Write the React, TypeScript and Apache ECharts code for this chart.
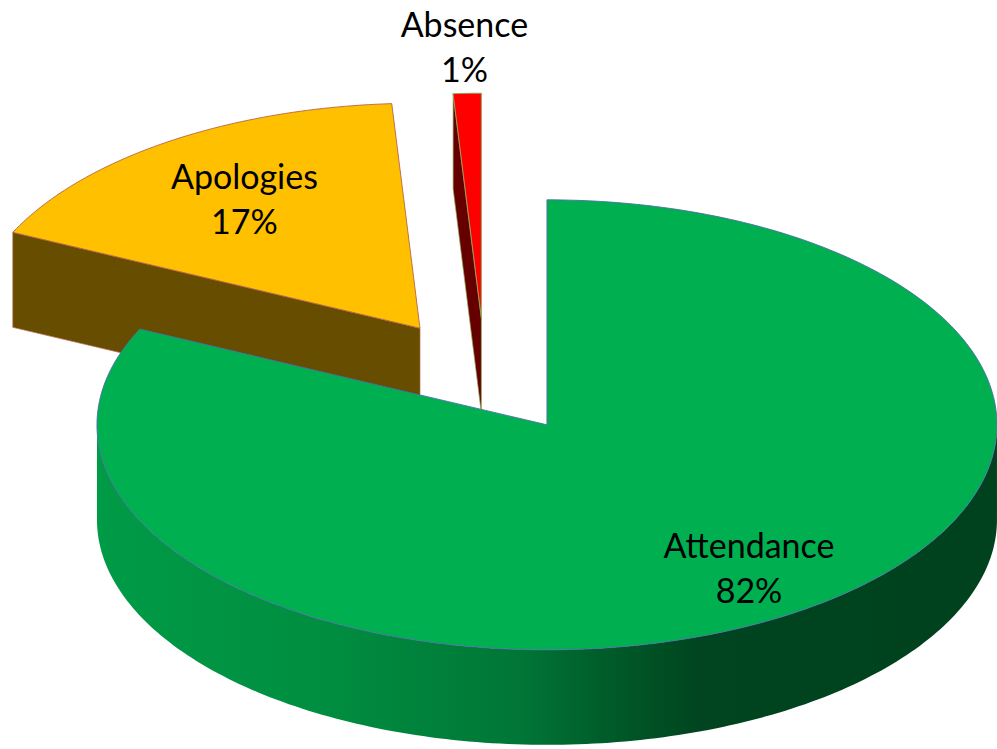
import React, { useEffect, useRef } from "react";
import * as echarts from "echarts";

// ---- data ----
const categories: string[] = ["Attendance", "Apologies", "Absence"];
const values: number[] = [82, 17, 1];

// ---- styles / layout (not data) ----
const topColors: string[] = ["#00B050", "#FFC000", "#FF0000"];
const edgeColors: string[] = ["#4C6EA6", "#B8644A", "#8FA85A"];
const labelFactors: number[][] = [
  [0.838, 0.747],
  [0.694, 0.7],
  [1.2, 1.21],
];
const REF_W = 997;
const REF_H = 749;
const CX = 485;
const CY = 376;
const RX = 450;
const RY = 225;
const DEPTH = 95;
const EXPLODE = 0.257;
const SIDE_STOPS: number[][] = [
  [0, 0.88],
  [0.26, 0.8],
  [0.47, 0.67],
  [0.58, 0.5],
  [0.67, 0.39],
  [1, 0.37],
];
const CUT_SHADE = 0.4;

function shade(hex: string, f: number): string {
  const n = parseInt(hex.slice(1), 16);
  const r = Math.round(((n >> 16) & 255) * f);
  const g = Math.round(((n >> 8) & 255) * f);
  const b = Math.round((n & 255) * f);
  return `rgb(${r},${g},${b})`;
}

const rad = (d: number) => (d * Math.PI) / 180;

function renderItem(params: any, api: any) {
  const i = params.dataIndex;
  const sx = api.getWidth() / REF_W;
  const sy = api.getHeight() / REF_H;
  const total = values.reduce((a, b) => a + b, 0);
  let before = 0;
  for (let k = 0; k < i; k++) before += values[k];
  const v = api.value(0) as number;
  const a0 = (before / total) * 360;
  const a1 = ((before + v) / total) * 360;
  const m = (a0 + a1) / 2;
  const tx = CX + EXPLODE * RX * Math.sin(rad(m));
  const ty = CY - EXPLODE * RY * Math.cos(rad(m));
  const pt = (deg: number, dz = 0): number[] => [
    (tx + RX * Math.sin(rad(deg))) * sx,
    (ty - RY * Math.cos(rad(deg)) + dz) * sy,
  ];
  const arc = (from: number, to: number, dz: number): number[][] => {
    const pts: number[][] = [];
    const n = Math.max(2, Math.ceil(Math.abs(to - from)));
    for (let j = 0; j <= n; j++) pts.push(pt(from + ((to - from) * j) / n, dz));
    return pts;
  };
  const T = [tx * sx, ty * sy];
  const TD = [tx * sx, (ty + DEPTH) * sy];
  const base = topColors[i];
  const zb = Math.round(ty) * 4;
  const children: any[] = [];

  // outer side wall (front half only)
  const lo = Math.max(a0, 90);
  const hi = Math.min(a1, 270);
  if (hi > lo) {
    children.push({
      type: "polygon",
      z2: zb,
      shape: { points: arc(lo, hi, 0).concat(arc(hi, lo, DEPTH)) },
      style: {
        fill: {
          type: "linear",
          x: (tx - RX) * sx,
          y: 0,
          x2: (tx + RX) * sx,
          y2: 0,
          global: true,
          colorStops: SIDE_STOPS.map(([o, f]) => ({ offset: o, color: shade(base, f) })),
        },
        stroke: null,
      },
    });
  }
  // cut faces
  if (Math.sin(rad(a0)) < -1e-6) {
    children.push({
      type: "polygon",
      z2: zb + 1,
      shape: { points: [T, pt(a0), pt(a0, DEPTH), TD] },
      style: { fill: shade(base, CUT_SHADE), stroke: edgeColors[i], lineWidth: 0.7 },
    });
  }
  if (Math.sin(rad(a1)) > 1e-6) {
    children.push({
      type: "polygon",
      z2: zb + 1,
      shape: { points: [T, pt(a1), pt(a1, DEPTH), TD] },
      style: { fill: shade(base, CUT_SHADE), stroke: edgeColors[i], lineWidth: 0.7 },
    });
  }
  // top face
  children.push({
    type: "polygon",
    z2: zb + 2,
    shape: { points: [T].concat(arc(a0, a1, 0)) },
    style: { fill: base, stroke: edgeColors[i], lineWidth: 0.9 },
  });
  // label
  const [fx, fy] = labelFactors[i];
  const pct = Math.round((v / total) * 100);
  children.push({
    type: "text",
    z2: 100000,
    x: (tx + fx * RX * Math.sin(rad(m))) * sx,
    y: (ty - fy * RY * Math.cos(rad(m))) * sy,
    style: {
      text: `${categories[i]}\n${pct}%`,
      fill: "#000000",
      fontFamily: "Lato",
      fontSize: 34,
      lineHeight: 45,
      align: "center",
      verticalAlign: "middle",
    },
  });
  return { type: "group", children };
}

export default function App() {
  const ref = useRef<HTMLDivElement>(null);
  useEffect(() => {
    if (!ref.current) return;
    const chart = echarts.init(ref.current, undefined, { renderer: "svg" });
    chart.setOption({
      animation: false,
      backgroundColor: "#ffffff",
      series: [
        {
          type: "custom",
          coordinateSystem: "none",
          renderItem,
          data: values.map((v, i) => ({ name: categories[i], value: [v] })),
        },
      ],
    });
    return () => chart.dispose();
  }, []);
  return (
    <div
      ref={ref}
      style={{ position: "fixed", left: 0, top: 0, width: 997, height: 749 }}
    />
  );
}
